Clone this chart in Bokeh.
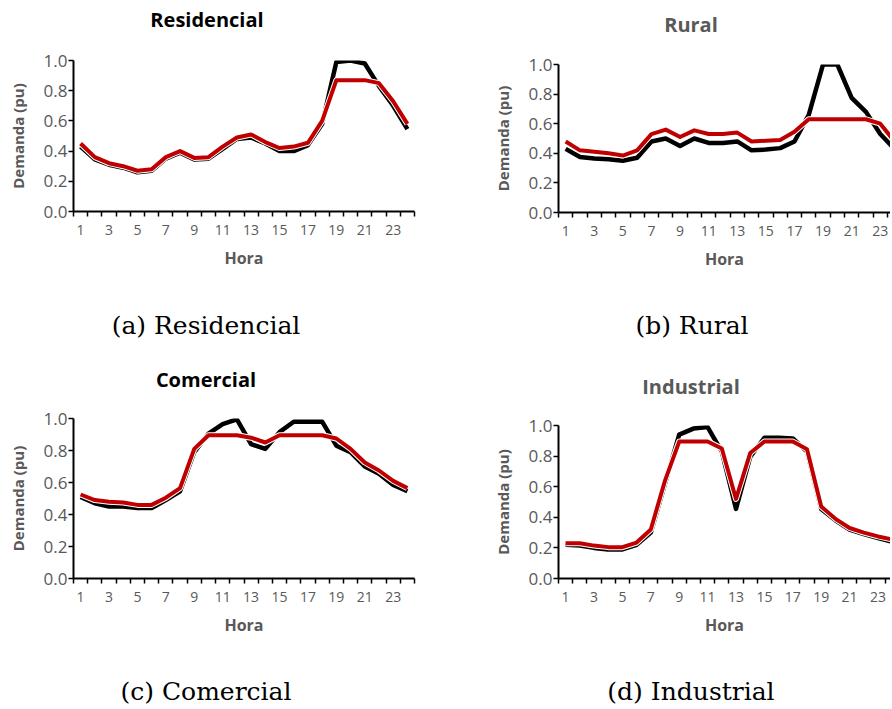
from bokeh.plotting import figure
from bokeh.layouts import column, row
from bokeh.models import Range1d, FixedTicker, NumeralTickFormatter, Div
from bokeh.embed import file_html
from bokeh.resources import INLINE

horas = list(range(1, 25))
x_tick_labels = [1, 3, 5, 7, 9, 11, 13, 15, 17, 19, 21, 23]
y_ticks = [0.0, 0.2, 0.4, 0.6, 0.8, 1.0]

res_black = [0.43, 0.345, 0.31, 0.29, 0.26, 0.27, 0.35, 0.39, 0.345, 0.35, 0.415, 0.48,
             0.49, 0.45, 0.40, 0.40, 0.44, 0.58, 0.99, 1.00, 0.98, 0.83, 0.70, 0.545]
res_red = [0.45, 0.36, 0.32, 0.30, 0.27, 0.28, 0.36, 0.40, 0.355, 0.36, 0.43, 0.49,
           0.51, 0.46, 0.42, 0.43, 0.455, 0.60, 0.87, 0.87, 0.87, 0.85, 0.73, 0.58]

rur_black = [0.43, 0.375, 0.365, 0.36, 0.35, 0.37, 0.48, 0.50, 0.45, 0.50, 0.47, 0.47,
             0.48, 0.42, 0.425, 0.435, 0.48, 0.66, 1.00, 1.00, 0.775, 0.68, 0.53, 0.43]
rur_red = [0.48, 0.42, 0.41, 0.40, 0.385, 0.42, 0.53, 0.56, 0.51, 0.555, 0.53, 0.53,
           0.54, 0.48, 0.485, 0.49, 0.545, 0.63, 0.63, 0.63, 0.63, 0.63, 0.60, 0.48]

com_black = [0.51, 0.47, 0.45, 0.45, 0.44, 0.44, 0.49, 0.545, 0.79, 0.905, 0.965, 0.995,
             0.84, 0.81, 0.915, 0.98, 0.98, 0.98, 0.83, 0.79, 0.70, 0.655, 0.585, 0.545]
com_red = [0.525, 0.49, 0.48, 0.475, 0.46, 0.46, 0.505, 0.565, 0.81, 0.895, 0.895, 0.895,
           0.88, 0.85, 0.895, 0.895, 0.895, 0.895, 0.875, 0.81, 0.725, 0.675, 0.61, 0.565]

ind_black = [0.22, 0.215, 0.20, 0.19, 0.19, 0.22, 0.30, 0.62, 0.94, 0.98, 0.99, 0.83,
             0.455, 0.795, 0.92, 0.92, 0.915, 0.83, 0.455, 0.38, 0.32, 0.29, 0.265, 0.24]
ind_red = [0.23, 0.23, 0.215, 0.205, 0.205, 0.235, 0.32, 0.64, 0.895, 0.895, 0.895, 0.85,
           0.52, 0.82, 0.895, 0.895, 0.895, 0.845, 0.47, 0.39, 0.33, 0.30, 0.275, 0.255]

titles = ["Residencial", "Rural", "Comercial", "Industrial"]
captions = ["(a) Residencial", "(b) Rural", "(c) Comercial", "(d) Industrial"]

FONT = "Open Sans"
GRAY = "#595959"
RED = "#C00000"


def text_div(text, width, height, left, top, box_w, line_h, font, size, weight, color):
    html = ('<div style="position:relative;margin:0;padding:0;'
            f'left:{left}px;top:{top}px;width:{box_w}px;text-align:center;'
            f'line-height:{line_h}px;font-family:\'{font}\';font-size:{size}px;'
            f'font-weight:{weight};color:{color};white-space:nowrap;">{text}</div>')
    return Div(text=html, width=width, height=height, margin=0,
               styles={"overflow": "visible"})


def title_div(text, width, height, center_x, center_y, color):
    return text_div(text, width, height, center_x - 100, center_y - 12, 200, 24,
                    FONT, 20, "bold", color)


def caption_div(text, width, height, center_x, center_y):
    return text_div(text, width, height, center_x - 130, center_y - 15, 260, 30,
                    "DejaVu Serif", 25, "normal", "#000000")


def panel(black, red, fw, fh, bl, br, bt, bb, x_end):
    p = figure(frame_width=fw, frame_height=fh, output_backend="svg", toolbar_location=None,
               x_range=Range1d(0.5, x_end), y_range=Range1d(0, 1.0),
               min_border_left=bl, min_border_right=br, min_border_top=bt, min_border_bottom=bb)
    p.outline_line_color = None
    p.xgrid.visible = False
    p.ygrid.visible = False
    p.background_fill_color = "white"
    p.border_fill_color = "white"

    p.line(horas, black, line_color="black", line_width=4.5, line_join="round")
    p.line(horas, red, line_color="white", line_width=6, line_join="round")
    p.line(horas, red, line_color=RED, line_width=4, line_join="round")

    xa = p.xaxis[0]
    xa.ticker = FixedTicker(ticks=x_tick_labels, minor_ticks=[h - 0.5 for h in horas] + [24.5])
    xa.major_tick_out = 0
    xa.major_tick_in = 0
    xa.minor_tick_out = 5
    xa.minor_tick_in = 0
    xa.minor_tick_line_color = "black"
    xa.minor_tick_line_width = 1.5
    xa.axis_line_color = "black"
    xa.axis_line_width = 2
    xa.major_label_text_font = FONT
    xa.major_label_text_font_size = "14px"
    xa.major_label_text_color = GRAY
    xa.major_label_standoff = 8
    xa.axis_label = "Hora"
    xa.axis_label_text_font = FONT
    xa.axis_label_text_font_size = "16px"
    xa.axis_label_text_font_style = "bold"
    xa.axis_label_text_color = GRAY
    xa.axis_label_standoff = 9

    ya = p.yaxis[0]
    ya.ticker = FixedTicker(ticks=y_ticks)
    ya.formatter = NumeralTickFormatter(format="0.0")
    ya.major_tick_out = 5
    ya.major_tick_in = 0
    ya.major_tick_line_color = "black"
    ya.major_tick_line_width = 1.5
    ya.minor_tick_line_color = None
    ya.axis_line_color = "black"
    ya.axis_line_width = 2
    ya.major_label_text_font = FONT
    ya.major_label_text_font_size = "17px"
    ya.major_label_text_color = GRAY
    ya.major_label_standoff = 1
    ya.axis_label = "Demanda (pu)"
    ya.axis_label_text_font = FONT
    ya.axis_label_text_font_size = "15px"
    ya.axis_label_text_font_style = "bold"
    ya.axis_label_text_color = GRAY
    ya.axis_label_standoff = 13
    return p


# left column (page x 0..446)
ta = title_div(titles[0], 446, 48, 207, 20, "#000000")                      # y 0..48
pa = panel(res_black, res_red, 341, 151, 73, 32, 12, 89, 24.5)              # y 48..300
ca = caption_div(captions[0], 446, 52, 206, 26)                             # y 300..352
tc = title_div(titles[2], 446, 48, 206, 28, "#000000")                      # y 352..400
pc = panel(com_black, com_red, 341, 160, 73, 32, 18, 72, 24.5)              # y 400..650
cc = caption_div(captions[2], 446, 58, 206, 42)                             # y 650..708

# right column (page x 446..890)
tb = title_div(titles[1], 444, 48, 691 - 446, 25, GRAY)
pb = panel(rur_black, rur_red, 332, 148, 112, 0, 16, 88, 0.5 + 332 / 14.3)
cb = caption_div(captions[1], 444, 52, 692 - 446, 26)
td = title_div(titles[3], 444, 48, 691 - 446, 35, GRAY)
pd = panel(ind_black, ind_red, 332, 153, 112, 0, 25, 72, 0.5 + 332 / 14.2)
cd = caption_div(captions[3], 444, 58, 691 - 446, 42)

layout = row(column(ta, pa, ca, tc, pc, cc), column(tb, pb, cb, td, pd, cd))
open("out.html", "w").write(file_html(layout, INLINE))
